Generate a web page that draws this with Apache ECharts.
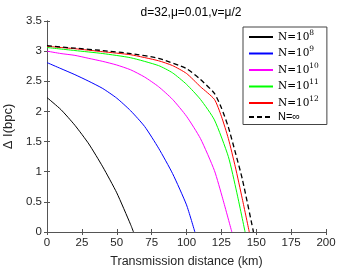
<!DOCTYPE html>
<html><head><meta charset="utf-8">
<script src="https://cdn.jsdelivr.net/npm/echarts@6/dist/echarts.min.js"></script>
<style>html,body{margin:0;padding:0;background:#fff}#c{width:360px;height:270px}</style>
</head><body><div id="c"></div>
<script>
const title = 'd=32,μ=0.01,v=μ/2';
const xName = 'Transmission distance (km)';
const yName = 'Δ I(bpc)';
const seriesNames = ['N=10^8','N=10^9','N=10^10','N=10^11','N=10^12','N=∞'];
const dist8  = [0,10,20,30,40,50,60,62];
const val8   = [2.23,2.03,1.77,1.46,1.08,0.65,0.12,0];
const dist9  = [0,10,20,30,40,50,60,70,80,90,100,106];
const val9   = [2.81,2.71,2.61,2.50,2.38,2.22,2.01,1.75,1.39,0.97,0.45,0];
const dist10 = [0,10,20,30,40,50,60,70,80,90,100,110,120,126,132.5];
const val10  = [3.00,2.96,2.93,2.88,2.83,2.77,2.69,2.57,2.41,2.20,1.92,1.55,1.02,0.55,0];
const dist11 = [0,20,40,60,80,90,100,110,120,130,136,142];
const val11  = [3.06,3.01,2.96,2.89,2.76,2.64,2.45,2.20,1.86,1.25,0.66,0];
const dist12 = [0,20,40,60,80,90,100,110,120,125,130,135,140,145];
const val12  = [3.08,3.04,2.99,2.94,2.84,2.76,2.63,2.41,2.20,1.92,1.55,1.08,0.55,0];
const distInf = [0,20,40,60,80,100,110,120,125,130,135,140,148];
const valInf  = [3.09,3.05,3.01,2.96,2.88,2.71,2.53,2.30,2.06,1.74,1.32,0.88,0];
const colors = ['#000000','#0000ff','#ff00ff','#00ff00','#ff0000','#000000'];
const xTicks = {min:0,max:200,interval:25};
const yTicks = {min:0,max:3.5,interval:0.5};

const pairs = (d,v)=>d.map((x,i)=>[x,v[i]]);
const dataSets = [pairs(dist8,val8),pairs(dist9,val9),pairs(dist10,val10),pairs(dist11,val11),pairs(dist12,val12),pairs(distInf,valInf)];

const axCol = '#555';
const tickFont = {color:'#262626',fontSize:11.5,fontFamily:'Liberation Sans'};
const chart = echarts.init(document.getElementById('c'),null,{renderer:'canvas'});
chart.setOption({
  animation:false,
  title:{text:title,left:186,top:2,textAlign:'center',textStyle:{fontSize:12,fontWeight:'normal',color:'#000',fontFamily:'Liberation Sans'}},
  grid:{left:47,right:34,top:21,bottom:38,outerBoundsMode:'none',containLabel:false},
  legend:{
    orient:'vertical', left:243, top:27,
    backgroundColor:'#fff', borderColor:'#444', borderWidth:1,
    padding:[2,8,2,5], itemGap:3, itemWidth:24, itemHeight:12,
    itemStyle:{opacity:0},
    data:seriesNames,
    formatter:function(n){
      const m = n.match(/^N=10\^(\d+)$/);
      if(m) return '{n|N=10}{s|'+m[1]+'}';
      return '{i|'+n+'}';
    },
    textStyle:{
      rich:{
        n:{fontSize:10.5,fontFamily:'DejaVu Serif',color:'#000',lineHeight:12},
        s:{fontSize:7.5,fontFamily:'DejaVu Serif',color:'#000',padding:[0,0,8,0]},
        i:{fontSize:11,fontFamily:'Liberation Sans',color:'#000',lineHeight:12}
      }
    }
  },
  xAxis:[{
    type:'value', min:xTicks.min, max:xTicks.max, interval:xTicks.interval,
    name:xName, nameLocation:'middle', nameGap:23,
    nameTextStyle:{fontSize:12.5,color:'#262626',fontFamily:'Liberation Sans'},
    axisLine:{lineStyle:{color:axCol,width:1}},
    axisTick:{inside:true,length:3,lineStyle:{color:axCol}},
    axisLabel:Object.assign({margin:5},tickFont),
    splitLine:{show:false}
  },{
    type:'value', position:'top', min:xTicks.min, max:xTicks.max, interval:xTicks.interval,
    axisLine:{lineStyle:{color:axCol,width:1}},
    axisTick:{inside:true,length:3,lineStyle:{color:axCol}},
    axisLabel:{show:false}, splitLine:{show:false}
  }],
  yAxis:[{
    type:'value', min:yTicks.min, max:yTicks.max, interval:yTicks.interval,
    name:yName, nameLocation:'middle', nameGap:27, nameRotate:90,
    nameTextStyle:{fontSize:13,color:'#262626',fontFamily:'Liberation Sans'},
    axisLine:{show:true,lineStyle:{color:axCol,width:1}},
    axisTick:{show:true,inside:true,length:3,lineStyle:{color:axCol}},
    axisLabel:Object.assign({margin:5},tickFont),
    splitLine:{show:false}
  },{
    type:'value', position:'right', min:yTicks.min, max:yTicks.max, interval:yTicks.interval,
    axisLine:{show:true,lineStyle:{color:axCol,width:1}},
    axisTick:{show:true,inside:true,length:3,lineStyle:{color:axCol}},
    axisLabel:{show:false}, splitLine:{show:false}
  }],
  series: dataSets.map((d,i)=>({
    name:seriesNames[i], type:'line', data:d, symbol:'none',
    smooth:0.2,
    xAxisIndex:0, yAxisIndex:0,
    lineStyle:{color:colors[i],width:i===5?1.3:1,type:i===5?[5,3]:'solid'},
    itemStyle:{color:colors[i]},
    z: i===5?10:5-i
  }))
});
</script></body></html>
